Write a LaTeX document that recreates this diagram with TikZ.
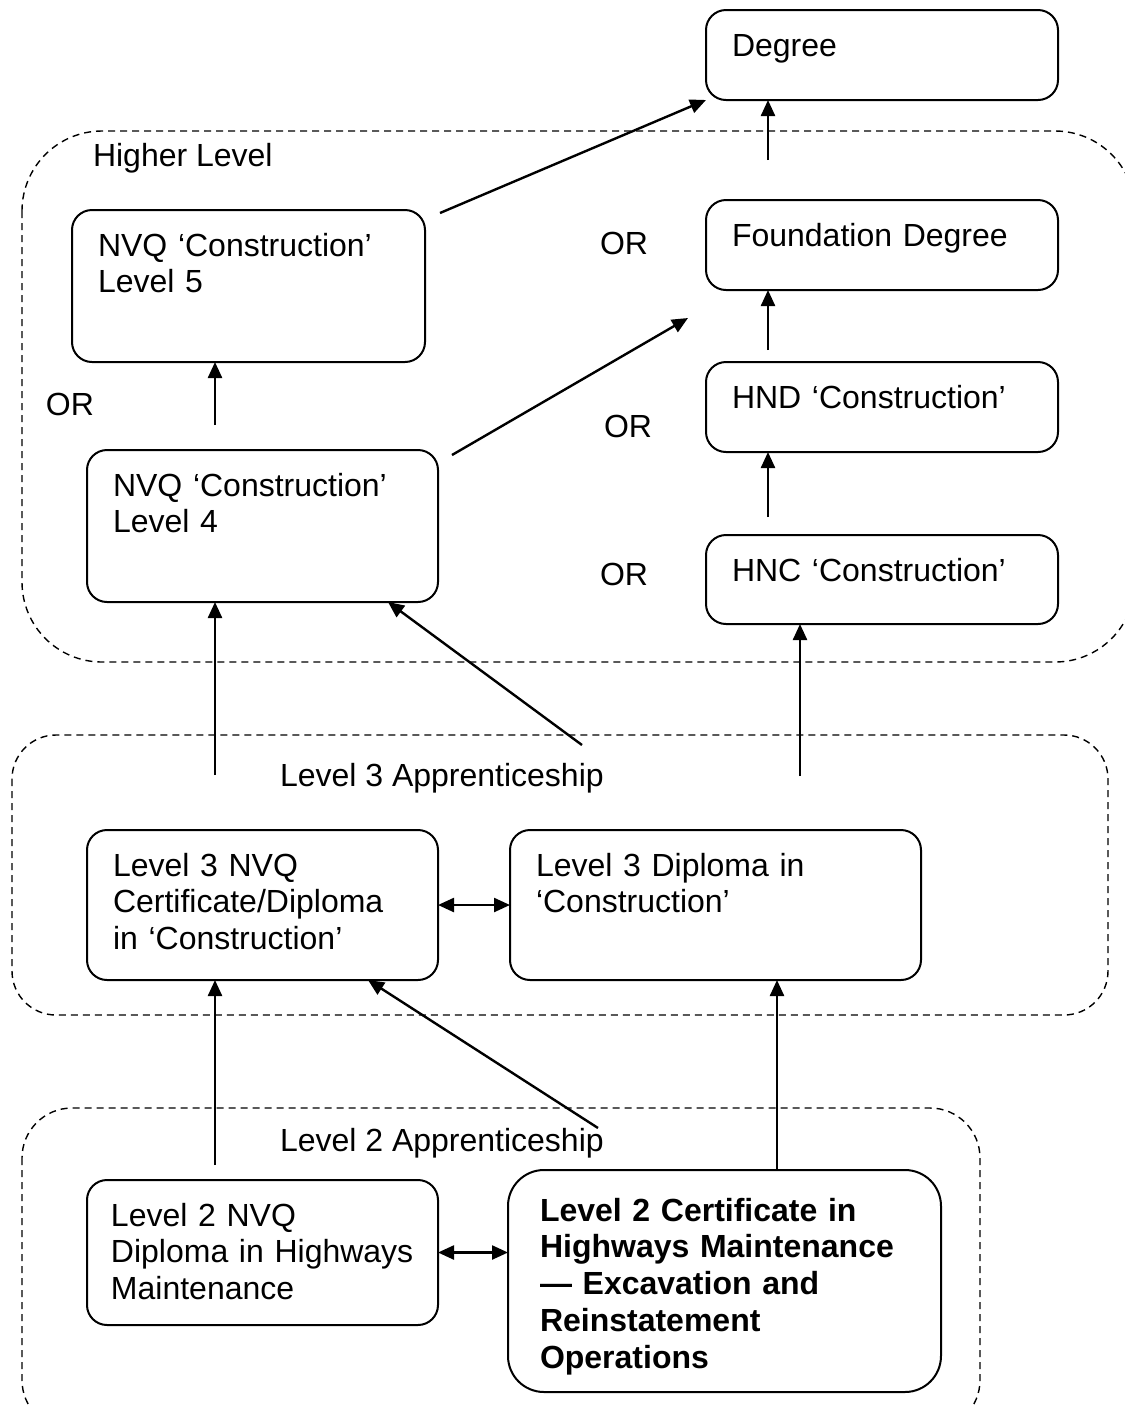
\documentclass[tikz,border=0pt]{standalone}
\usepackage{fontspec}
\setmainfont{Liberation Sans}
\usepackage{tikz}
\usetikzlibrary{calc,arrows.meta}

\begin{document}
\begin{tikzpicture}[x=0.5pt,y=-0.5pt,
    every node/.style={font=\fontsize{16}{18.4}\selectfont, inner sep=0pt, outer sep=0pt},
    qual/.style={draw, line width=1pt, rounded corners=10pt, anchor=north west,
        execute at begin node={\raggedright\hyphenpenalty=10000},
        inner xsep=13pt, inner ysep=10pt, text height=13pt},
    group/.style={draw, line width=0.7pt, dash pattern=on 3.5pt off 2.5pt, rounded corners=#1},
    up_arr/.style={line width=1.2pt, -{Triangle[length=8pt,width=7pt]}},
    both_arr/.style={line width=1.2pt, {Triangle[length=8pt,width=7pt]}-{Triangle[length=8pt,width=7pt]}}]
    %
    \clip (0,0) rectangle (1125,1405);
    % dashed groups
    \draw[group=40pt] (22,131) rectangle (1135,662);
    \draw[group=22pt] (12,735) rectangle (1108,1015);
    \draw[group=25pt] (22,1108) rectangle (980,1430);
    \node[anchor=west] (higher_lbl) at (93,158) {Higher Level};
    \node[anchor=west] (l3_lbl) at (280,778) {Level 3 Apprenticeship};
    \node[anchor=west] (l2_lbl) at (280,1143) {Level 2 Apprenticeship};
    % higher level
    \node[qual, text width=150pt, text depth=12pt] (degree) at (706,10) {Degree};
    \node[qual, text width=150pt, text depth=12pt] (found_deg) at (706,200) {Foundation Degree};
    \node[qual, text width=150pt, text depth=12pt] (hnd_con) at (706,362) {HND ‘Construction’};
    \node[qual, text width=150pt, text depth=11.5pt] (hnc_con) at (706,535) {HNC ‘Construction’};
    \node[qual, text width=150.5pt, text depth=43pt] (nvq_five) at (72,210) {NVQ ‘Construction’\\Level 5};
    \node[qual, text width=149.5pt, text depth=43pt] (nvq_four) at (87,450) {NVQ ‘Construction’\\Level 4};
    \node (or_a) at (624,243) {OR};
    \node (or_b) at (70,404) {OR};
    \node (or_c) at (628,426) {OR};
    \node (or_d) at (624,574) {OR};
    % level 3
    \node[qual, text width=149.5pt, text depth=42pt] (l3_nvq) at (87,830)
        {Level 3 NVQ\\Certificate/Diploma\\in ‘Construction’};
    \node[qual, text width=179.5pt, text depth=42pt] (l3_dip) at (510,830)
        {Level 3 Diploma in\\‘Construction’};
    % level 2
    \node[qual, inner xsep=12pt, text width=151.5pt, text depth=39.5pt] (l2_nvq) at (87,1180)
        {Level 2 NVQ\\Diploma in Highways\\Maintenance};
    \node[qual, rounded corners=18pt, inner xsep=16pt, text width=184.5pt, text height=15.5pt, text depth=75.5pt,
        font=\fontsize{16}{18.4}\selectfont\bfseries] (l2_cert) at (508,1170)
        {Level 2 Certificate in\\Highways Maintenance\\— Excavation and\\Reinstatement\\Operations};
    %
    \coordinate (nvq5_out) at (440,213);
    \coordinate (fd_up) at (768,160);
    \coordinate (n4_up) at (215,425);
    \coordinate (n4_out) at (452,455);
    \coordinate (fd_in) at (688,318);
    \coordinate (hnd_up) at (768,350);
    \coordinate (hnc_up) at (768,517);
    \coordinate (l3_up_a) at (215,775);
    \coordinate (l3_up_b) at (582,745);
    \coordinate (l3_up_c) at (800,776);
    \coordinate (l2_up_a) at (215,1165);
    \coordinate (l2_up_b) at (598,1128);
    \coordinate (l2_up_c) at (777,1170);
    %
    \draw[up_arr] (nvq5_out) -- (degree.south west);
    \draw[up_arr] (fd_up) -- (fd_up |- degree.south);
    \draw[up_arr] (n4_up) -- (n4_up |- nvq_five.south);
    \draw[up_arr] (n4_out) -- (fd_in);
    \draw[up_arr] (hnd_up) -- (hnd_up |- found_deg.south);
    \draw[up_arr] (hnc_up) -- (hnc_up |- hnd_con.south);
    \draw[up_arr] (l3_up_a) -- (l3_up_a |- nvq_four.south);
    \draw[up_arr] (l3_up_b) -- ([xshift=-25pt]nvq_four.south east);
    \draw[up_arr] (l3_up_c) -- (l3_up_c |- hnc_con.south);
    \draw[both_arr] (l3_nvq.east) -- (l3_nvq.east -| l3_dip.west);
    \draw[up_arr] (l2_up_a) -- (l2_up_a |- l3_nvq.south);
    \draw[up_arr] (l2_up_b) -- ([xshift=-35pt]l3_nvq.south east);
    \draw[up_arr] (l2_up_c) -- (l2_up_c |- l3_dip.south);
    \draw[both_arr] (l2_nvq.east) -- (l2_nvq.east -| l2_cert.west);

\end{tikzpicture}
\end{document}
